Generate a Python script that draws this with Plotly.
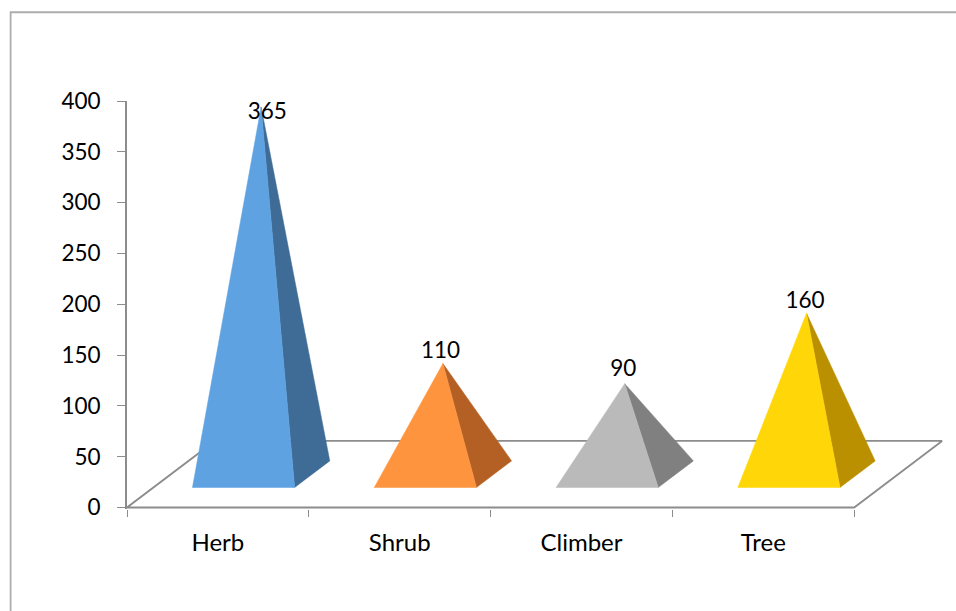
import plotly.graph_objects as go

# Data
categories = ["Herb", "Shrub", "Climber", "Tree"]
values = [365, 110, 90, 160]
y_ticks = [0, 50, 100, 150, 200, 250, 300, 350, 400]

# Style
front_colors = ["#5FA2E2", "#FF943F", "#BABABA", "#FFD608"]
side_colors = ["#3F6C96", "#B46024", "#808080", "#BB9000"]
label_dx = [0.03, -0.017, -0.012, -0.012]    # label nudge, category units
label_dy = [-6.5, 11, 13.5, 11]              # label nudge above apex, value units
AXIS = "#8C8C8C"
FONT = "Lato"
FS = 22.5
FS_CAT = 24

# Oblique projection of the 3-D floor onto the axes
DEPTH_X = 0.4835      # category units per full floor depth
DEPTH_Y = 65.5        # value units per full floor depth
HEIGHT_K = 0.99       # foreshortening of vertical values
HALF_W = 0.281        # half of a pyramid's base width
D0, D1 = 0.30, 0.70   # front/back depth of a pyramid base
DM = 0.5 * (D0 + D1)
NUDGE = -0.004        # small sideways correction of the pyramids
RIGHT_ROOM = 0.56     # blank axis room for the floor's overhang


def proj(c, d, h=0.0):
    return c + d * DEPTH_X, h * HEIGHT_K + d * DEPTH_Y


positions = list(range(len(categories)))
x_lo, x_hi = positions[0] - 0.5, positions[-1] + 0.5
boundaries = [p - 0.5 for p in positions] + [x_hi]

fig = go.Figure()

# Floor outline (its front edge is the category axis line)
floor = [proj(x_lo, 0), proj(x_lo, 1), proj(x_hi, 1), proj(x_hi, 0), proj(x_lo, 0)]
fig.add_trace(go.Scatter(
    x=[p[0] for p in floor], y=[p[1] for p in floor],
    mode="lines", line=dict(color=AXIS, width=1.8),
    cliponaxis=False, hoverinfo="skip", showlegend=False))

# Pyramids
for p, v, fc, sc in zip(positions, values, front_colors, side_colors):
    c = p + NUDGE
    apex = proj(c, DM, v)
    front = [proj(c - HALF_W, D0), proj(c + HALF_W, D0), apex]
    side = [proj(c + HALF_W, D0), proj(c + HALF_W, D1), apex]
    for pts, col in ((side, sc), (front, fc)):
        fig.add_trace(go.Scatter(
            x=[q[0] for q in pts] + [pts[0][0]],
            y=[q[1] for q in pts] + [pts[0][1]],
            mode="lines", fill="toself", fillcolor=col,
            line=dict(color=col, width=0.5),
            cliponaxis=False, hoverinfo="skip", showlegend=False))

# Data labels
apexes = [proj(p, DM, v) for p, v in zip(positions, values)]
fig.add_trace(go.Scatter(
    x=[a[0] + dx for a, dx in zip(apexes, label_dx)],
    y=[a[1] + dy for a, dy in zip(apexes, label_dy)],
    text=[str(v) for v in values], mode="text", textposition="middle center",
    textfont=dict(family=FONT, size=FS, color="black"),
    xaxis="x2", cliponaxis=False, hoverinfo="skip", showlegend=False))

x_range = [x_lo, x_hi + RIGHT_ROOM]
fig.update_layout(
    width=956, height=611,
    margin=dict(l=126.5, r=0, t=101, b=102, autoexpand=False),
    paper_bgcolor="white", plot_bgcolor="white",
    showlegend=False,
    xaxis=dict(range=x_range, tickmode="array", tickvals=boundaries,
               ticktext=[""] * len(boundaries), ticks="outside", ticklen=7,
               tickwidth=1.2, tickcolor=AXIS, showgrid=False, zeroline=False,
               showline=False),
    xaxis2=dict(range=x_range, overlaying="x", side="bottom", anchor="y",
                tickmode="array", tickvals=positions, ticktext=categories,
                ticks="", showgrid=False, zeroline=False, showline=False,
                ticklabelstandoff=17,
                tickfont=dict(family=FONT, size=FS_CAT, color="black")),
    yaxis=dict(range=[-1.5, 400], tickmode="array", tickvals=y_ticks,
               ticks="outside", ticklen=8, tickwidth=1.2, tickcolor=AXIS,
               showgrid=False, zeroline=False, showline=True, linecolor=AXIS,
               linewidth=1.8, ticklabelstandoff=12,
               tickfont=dict(family=FONT, size=FS, color="black")),
    shapes=[dict(type="path", xref="paper", yref="paper",
                 path="M -0.1404 -0.25 L -0.1404 1.2175 L 1.0 1.2175",
                 line=dict(color="#ADADAD", width=1.8), layer="below")],
)

fig.write_html("out.html", config={"displayModeBar": False},
               post_script="document.body.style.margin='0';")
